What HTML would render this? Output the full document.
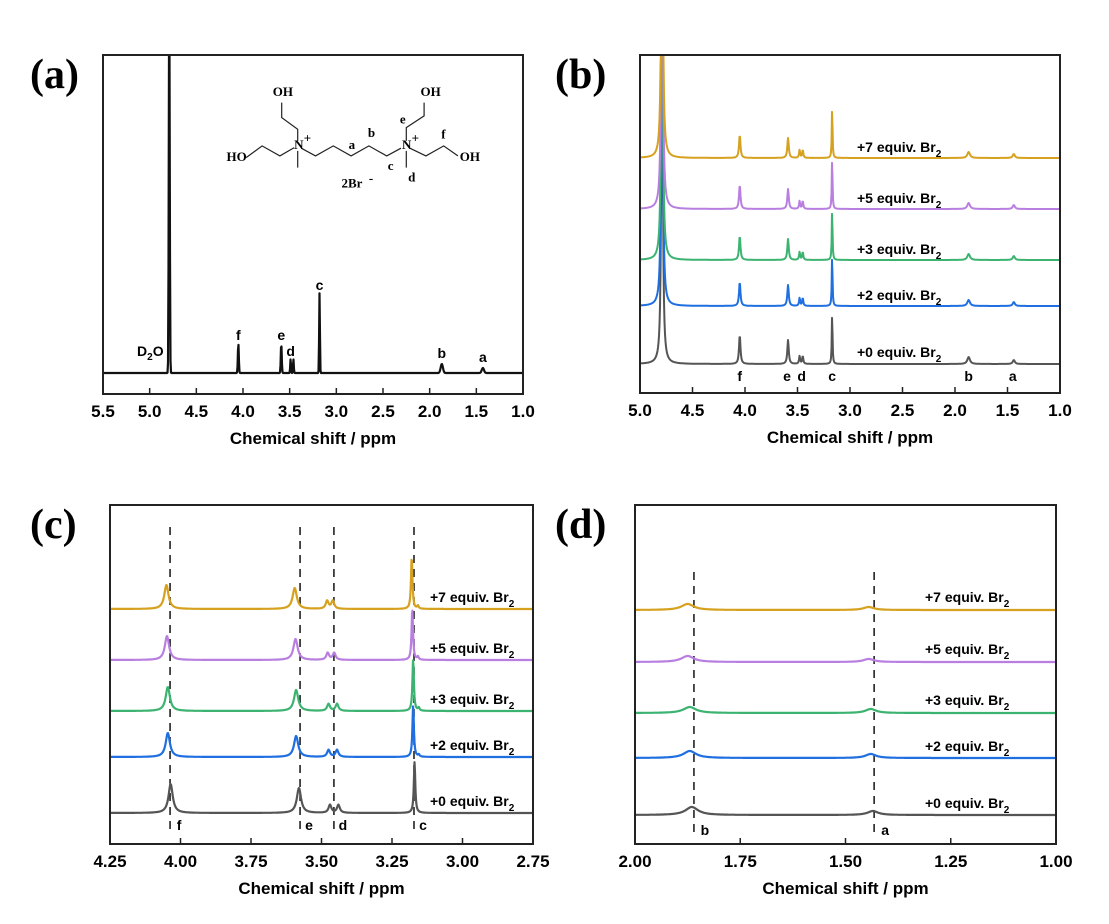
<!DOCTYPE html>
<html><head><meta charset="utf-8">
<style>
body{margin:0;background:#fff;}
svg{display:block;font-family:"Liberation Sans",Arial,sans-serif;}
.tick{font-weight:bold;font-size:17px;text-anchor:middle;}
.title{font-weight:bold;font-size:17px;text-anchor:middle;}
.plab{font-family:"Liberation Serif",serif;font-weight:bold;font-size:42px;}
.slab{font-weight:bold;font-size:14px;}
.pk{font-weight:bold;font-size:14px;text-anchor:middle;}
.st{font-family:"Liberation Serif",serif;font-weight:bold;font-size:13px;}
</style></head>
<body>
<svg id="fig" width="1109" height="924" viewBox="0 0 1109 924">
<defs>
<clipPath id="clipA"><rect x="103" y="55" width="420" height="339"/></clipPath>
<clipPath id="clipB"><rect x="640" y="55" width="420" height="338"/></clipPath>
<clipPath id="clipC"><rect x="110" y="505" width="423" height="339"/></clipPath>
<clipPath id="clipD"><rect x="635" y="505" width="421" height="339"/></clipPath>
</defs>
</svg>
<script>
// ---- data ----
const seriesLabels = ["+0", "+2", "+3", "+5", "+7"];
const seriesColors = ["#555555", "#1f6fe0", "#3cb371", "#b97fe0", "#d6a11e"];
// panel a: peaks (ppm, intensity) - gaussian
const aShifts = [4.79, 4.05, 3.59, 3.49, 3.46, 3.18, 1.87, 1.43];
const aHeights = [400, 30, 30, 14, 14, 80, 9, 5];
const aWidths = [0.005, 0.005, 0.005, 0.004, 0.004, 0.004, 0.012, 0.012];
// panel b: per-series peaks
const bShifts = [4.79, 4.05, 3.59, 3.48, 3.45, 3.17, 1.87, 1.44];
const bHeights = [
  [400, 29, 24, 8, 8, 52, 7, 4],
  [400, 24, 21, 8, 8, 52, 6, 4],
  [400, 24, 21, 8, 8, 52, 6, 4],
  [400, 24, 20, 8, 8, 52, 6, 4],
  [400, 23, 20, 8, 8, 52, 6, 4]
];
const bWidths = [0.008, 0.008, 0.008, 0.006, 0.006, 0.004, 0.015, 0.012];
// panel c: peak shifts per series (f, e, d1, d2, c, c-small)
const cShifts = [
  [4.035, 3.58, 3.47, 3.44, 3.17, 3.15],
  [4.045, 3.59, 3.475, 3.445, 3.175, 3.155],
  [4.045, 3.59, 3.475, 3.445, 3.175, 3.155],
  [4.048, 3.592, 3.478, 3.455, 3.178, 3.158],
  [4.05, 3.595, 3.48, 3.46, 3.18, 3.158]
];
const cHeights = [
  [29, 25, 8, 8, 51, 0],
  [24, 21, 7, 7, 52, 2],
  [24, 21, 7, 7, 52, 3],
  [24, 21, 7, 7, 52, 3],
  [24, 21, 8, 8, 53, 3]
];
const cWidths = [0.009, 0.009, 0.006, 0.006, 0.003, 0.003];
// panel d: b and a peaks
const dShifts = [
  [1.865, 1.435],
  [1.87, 1.44],
  [1.87, 1.44],
  [1.875, 1.445],
  [1.875, 1.445]
];
const dHeights = [
  [8, 4], [7, 4], [6, 4], [6, 3], [6, 3]
];
const dWidths = [0.018, 0.015];
const aTicks = ["5.5","5.0","4.5","4.0","3.5","3.0","2.5","2.0","1.5","1.0"];
const bTicks = ["5.0","4.5","4.0","3.5","3.0","2.5","2.0","1.5","1.0"];
const cTicks = ["4.25","4.00","3.75","3.50","3.25","3.00","2.75"];
const dTicks = ["2.00","1.75","1.50","1.25","1.00"];
const cGuides = [4.037, 3.576, 3.456, 3.172];
const cGuideLabels = ["f","e","d","c"];
const dGuides = [1.86, 1.432];
const dGuideLabels = ["b","a"];

const NS = "http://www.w3.org/2000/svg";
const svg = document.getElementById("fig");
function mk(tag, attrs, parent, text){
  const e = document.createElementNS(NS, tag);
  for (const k in attrs) e.setAttribute(k, attrs[k]);
  if (text !== undefined) e.textContent = text;
  (parent || svg).appendChild(e);
  return e;
}
function lor(x, shifts, heights, widths, gauss){
  let s = 0;
  for (let i = 0; i < shifts.length; i++){
    const w = widths[i], d = x - shifts[i];
    if (gauss) s += heights[i] * Math.exp(-d * d / (2 * w * w));
    else s += heights[i] * w * w / (d * d + w * w);
  }
  return s;
}
function panel(p){
  const g = mk("g", {});
  
  
  const xs = v => p.x0 + (p.max - v) / (p.max - p.min) * (p.x1 - p.x0);
  p.xs = xs;
  p.ticks.forEach(t => {
    const v = parseFloat(t), x = xs(v);
    const tl = mk("line", {x1:x, x2:x, y1:p.y1, y2:p.y1-6, stroke:"#222", "stroke-width":1.5}, g);
    
    
    const tx = mk("text", {x:x, y:p.y1+23, class:"tick"}, g, t);
    
    
  });
  const ti = mk("text", {x:(p.x0+p.x1)/2, y:p.y1+50, class:"title"}, g, "Chemical shift / ppm");
  
  
  const pl = mk("text", {x:p.lx, y:p.ly, class:"plab"}, g, p.label);
  
  
  return g;
}
function spectrum(g, p, base, shifts, heights, widths, color, sw, name, gauss){
  let d = "";
  for (let x = p.x0; x <= p.x1; x += 0.5){
    const v = p.max - (x - p.x0) / (p.x1 - p.x0) * (p.max - p.min);
    const y = base - lor(v, shifts, heights, widths, gauss);
    d += (d ? "L" : "M") + x.toFixed(1) + "," + Math.max(y, p.y0 - 5).toFixed(1);
  }
  const path = mk("path", {d:d, fill:"none", stroke:color, "stroke-width":sw, "stroke-linejoin":"round", "clip-path":"url(#"+p.clip+")"}, g);
  
  
}
function frame(g, p){
  const r = mk("rect", {x:p.x0, y:p.y0, width:p.x1-p.x0, height:p.y1-p.y0, fill:"none", stroke:"#222", "stroke-width":2}, g);
  
  
}
function seriesLabel(g, x, y, lab){
  const t = mk("text", {x:x, y:y, class:"slab"}, g);
  
  
  mk("tspan", {}, t, lab + " equiv. Br");
  mk("tspan", {dy:5, "font-size":"10px"}, t, "2");
}

// ---- panel a ----
const pa = {name:"panel-a", x0:103, x1:523, y0:55, y1:394, max:5.5, min:1.0, ticks:aTicks, label:"(a)", lx:30, ly:88, clip:"clipA"};
const ga = panel(pa);
spectrum(ga, pa, 373, aShifts, aHeights, aWidths, "#111", 2.2, "spectrum-a", true);
frame(ga, pa);
[["f",4.05,340],["e",3.59,340],["d",3.49,356],["c",3.18,290],["b",1.87,358],["a",1.43,362]].forEach(q=>{
  const t = mk("text", {x:pa.xs(q[1]), y:q[2], class:"pk"}, ga, q[0]);
  
  
});
{
  const t = mk("text", {x:137, y:356, class:"slab"}, ga);
  
  
  mk("tspan", {}, t, "D");
  mk("tspan", {dy:4, "font-size":"10px"}, t, "2");
  mk("tspan", {dy:-4}, t, "O");
}
// structure
{
  const sg = mk("g", {}, ga);
  
  
  const X = z => 103 + (z - 288) * 0.356, Y = z => 55 + (z - 72) * 0.333;
  const lines = [
    [[690,380],[735,345],[785,375],[825,350]],
    [[835,330],[835,295],[790,260],[790,215]],
    [[835,360],[835,410]],
    [[845,352],[885,375],[935,345],[985,375],[1035,345],[1085,375],[1125,352]],
    [[1140,330],[1140,290],[1190,255],[1190,215]],
    [[1140,360],[1140,410]],
    [[1150,352],[1195,375],[1245,345],[1285,375]]
  ];
  lines.forEach(l => {
    mk("polyline", {points:l.map(q=>X(q[0]).toFixed(1)+","+Y(q[1]).toFixed(1)).join(" "), fill:"none", stroke:"#222", "stroke-width":1.2}, sg);
  });
  [["HO",635,390],["OH",765,195],["OH",1180,195],["OH",1290,390],["N",825,355],["N",1128,355],
   ["a",978,355],["b",1032,318],["c",1088,418],["d",1145,452],["e",1122,278],["f",1238,322],["2Br",958,470]].forEach(q=>{
    mk("text", {x:X(q[1]), y:Y(q[2]), class:"st"}, sg, q[0]);
  });
  mk("text", {x:X(852), y:Y(335), class:"st", "font-size":"8px"}, sg, "+");
  mk("text", {x:X(1155), y:Y(335), class:"st", "font-size":"8px"}, sg, "+");
  mk("text", {x:X(1035), y:Y(455), class:"st", "font-size":"8px"}, sg, "-");
}

// ---- panel b ----
const pb = {name:"panel-b", x0:640, x1:1060, y0:55, y1:393, max:5.0, min:1.0, ticks:bTicks, label:"(b)", lx:555, ly:88, clip:"clipB"};
const gb = panel(pb);
const bBase = [364, 306, 260, 209, 158];
const bLabY = [357, 300, 254, 203, 152];
for (let i = 0; i < 5; i++){
  spectrum(gb, pb, bBase[i], bShifts, bHeights[i], bWidths, seriesColors[i], 2, "spectrum-b-" + seriesLabels[i].replace("+","eq"), false);
  seriesLabel(gb, 857, bLabY[i], seriesLabels[i]);
}
frame(gb, pb);
[["f",4.05],["e",3.6],["d",3.46],["c",3.17],["b",1.87],["a",1.45]].forEach(q=>{
  const t = mk("text", {x:pb.xs(q[1]), y:381, class:"pk"}, gb, q[0]);
  
  
});

// ---- panel c ----
const pc = {name:"panel-c", x0:110, x1:533, y0:505, y1:844, max:4.25, min:2.75, ticks:cTicks, label:"(c)", lx:30, ly:538, clip:"clipC"};
const gc = panel(pc);
const cBase = [813, 757, 711, 660, 609];
const cLabY = [806, 750, 704, 653, 602];
cGuides.forEach((v,i)=>{
  const l = mk("line", {x1:pc.xs(v), x2:pc.xs(v), y1:527, y2:832, stroke:"#222", "stroke-width":1.6, "stroke-dasharray":"8,6"}, gc);
  
  
  const t = mk("text", {x:pc.xs(v)+9, y:830, class:"pk"}, gc, cGuideLabels[i]);
  
  
});
for (let i = 0; i < 5; i++){
  spectrum(gc, pc, cBase[i], cShifts[i], cHeights[i], cWidths, seriesColors[i], 2.2, "spectrum-c-" + seriesLabels[i].replace("+","eq"), false);
  seriesLabel(gc, 430, cLabY[i], seriesLabels[i]);
}
frame(gc, pc);

// ---- panel d ----
const pd = {name:"panel-d", x0:635, x1:1056, y0:505, y1:844, max:2.0, min:1.0, ticks:dTicks, label:"(d)", lx:555, ly:538, clip:"clipD"};
const gd = panel(pd);
const dBase = [815, 758, 713, 662, 610];
const dLabY = [808, 751, 705, 654, 602];
dGuides.forEach((v,i)=>{
  const l = mk("line", {x1:pd.xs(v), x2:pd.xs(v), y1:572, y2:836, stroke:"#222", "stroke-width":1.6, "stroke-dasharray":"8,6"}, gd);
  
  
  const t = mk("text", {x:pd.xs(v)+11, y:835, class:"pk"}, gd, dGuideLabels[i]);
  
  
});
for (let i = 0; i < 5; i++){
  spectrum(gd, pd, dBase[i], dShifts[i], dHeights[i], dWidths, seriesColors[i], 2.2, "spectrum-d-" + seriesLabels[i].replace("+","eq"), false);
  seriesLabel(gd, 925, dLabY[i], seriesLabels[i]);
}
frame(gd, pd);
</script>
</body></html>
